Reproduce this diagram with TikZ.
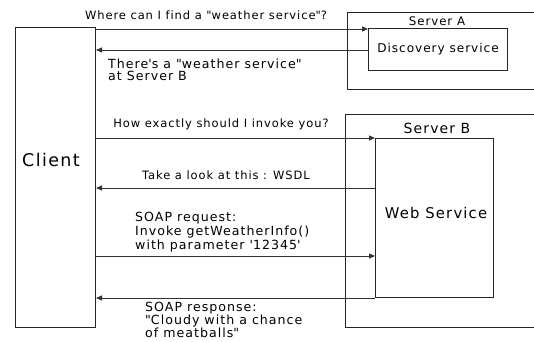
\documentclass[tikz,border=0pt]{standalone}
\usepackage{fontspec}
\setmainfont{DejaVu Sans}
\newfontfamily\lsf[LetterSpace=8,Ligatures=NoCommon]{DejaVu Sans}
\usetikzlibrary{arrows.meta}
\newcommand{\qd}{\textquotedbl}
\newcommand{\qs}{\textquotesingle}
\begin{document}
\begin{tikzpicture}[x=1pt,y=-1pt,
  box/.style={draw=black!85,line width=1pt,inner sep=0pt,anchor=north west},
  arr/.style={draw=black!80,line width=0.9pt,-{Triangle[length=6pt,width=5pt]}},
  msg/.style={font=\lsf\fontsize{11.5}{12}\selectfont,inner sep=0pt},
  mlt/.style={font=\lsf\fontsize{12.6}{#1}\selectfont,inner sep=0pt,align=left,anchor=north west}]
\useasboundingbox (0,0) rectangle (534,341);
\fill[white] (0,0) rectangle (534,341);
% boxes
\node[box,minimum width=80pt,minimum height=300pt] (client) at (15,27) {};
\node[font=\lsf\fontsize{17.5}{20}\selectfont] (clientlbl) at (51,160) {Client};
\node[box,minimum width=193pt,minimum height=77pt] (srvA) at (347,12) {};
\node[font=\lsf\fontsize{11.8}{13}\selectfont] (srvAlbl) at (437,21) {Server A};
\node[box,minimum width=139pt,minimum height=42pt,font=\lsf\fontsize{12.1}{13}\selectfont] (disc) at (368,28) {Discovery service};
\node[box,minimum width=195pt,minimum height=213pt] (srvB) at (345,114) {};
\node[font=\lsf\fontsize{14}{15}\selectfont] (srvBlbl) at (437,128) {Server B};
\node[box,minimum width=118pt,minimum height=159pt] (ws) at (375,138) {};
\node[font=\lsf\fontsize{14.8}{16}\selectfont] (wslbl) at (436,213) {Web Service};
% connectors
\coordinate (y1) at (0,29);
\coordinate (y2) at (0,50);
\coordinate (y3) at (0,138);
\coordinate (y4) at (0,188);
\coordinate (y5) at (0,256);
\coordinate (y6) at (0,298);
\draw[arr] (client.east |- y1) -- (disc.west |- y1);
\draw[arr] (disc.west |- y2) -- (client.east |- y2);
\draw[arr] (client.east |- y3) -- (ws.west |- y3);
\draw[arr] (ws.west |- y4) -- (client.east |- y4);
\draw[arr] (client.east |- y5) -- (ws.west |- y5);
\draw[arr] (ws.west |- y6) -- (client.east |- y6);
% labels
\node[msg] (l1) at (206,15) {Where can I find a \qd weather service\qd?};
\node[mlt=12] (l2) at (108,59) {There\qs s a \qd weather service\qd\\at Server B};
\node[msg] (l3) at (221,124) {How exactly should I invoke you?};
\node[msg] (l4) at (226,175) {Take a look at this : WSDL};
\node[mlt=14] (l5) at (135,212) {SOAP request:\\Invoke getWeatherInfo()\\with parameter \qs 12345\qs};
\node[mlt=13] (l6) at (145,302) {SOAP response:\\\qd Cloudy with a chance\\of meatballs\qd};
\end{tikzpicture}
\end{document}
